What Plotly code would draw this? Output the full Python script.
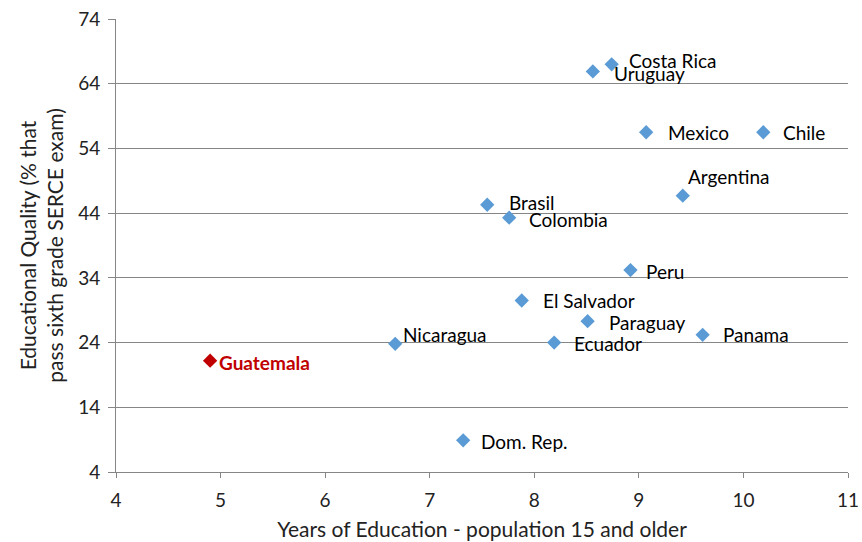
import plotly.graph_objects as go

countries = ["Costa Rica", "Uruguay", "Mexico", "Chile", "Argentina", "Brasil",
             "Colombia", "Peru", "El Salvador", "Paraguay", "Panama", "Ecuador",
             "Nicaragua", "Dom. Rep.", "Guatemala"]
years_edu = [8.74, 8.56, 9.07, 10.19, 9.42, 7.55, 7.76, 8.92, 7.88, 8.51, 9.61,
             8.19, 6.67, 7.32, 4.90]
quality = [67.0, 65.9, 56.5, 56.5, 46.7, 45.3, 43.3, 35.2, 30.5, 27.3, 25.2,
           24.0, 23.8, 8.9, 21.2]

y_ticks = [4, 14, 24, 34, 44, 54, 64, 74]
x_ticks = [4, 5, 6, 7, 8, 9, 10, 11]

# label offsets in pixels (right, up) from each marker
label_dx = [15, 19, 20, 18, 3, 20, 18, 14, 19, 19, 18, 18, 6, 16, 7]
label_dy = [4, -2, 0, 0, 19, 2, -2, -1, 0, -1, 0, -1, 9, -1, -2]

BLUE = "#5B9BD5"
RED = "#C00000"
FONT = "Lato, Carlito, Calibri, sans-serif"

highlight = "Guatemala"
colors = [RED if c == highlight else BLUE for c in countries]

fig = go.Figure()
fig.add_trace(go.Scatter(
    x=years_edu, y=quality, mode="markers",
    marker=dict(symbol="diamond", size=11, color=colors, line=dict(width=0)),
    hoverinfo="text", text=countries, showlegend=False,
))

for name, xv, yv, dx, dy in zip(countries, years_edu, quality, label_dx, label_dy):
    is_hl = name == highlight
    fig.add_annotation(
        x=xv, y=yv, text=f"<b>{name}</b>" if is_hl else name,
        showarrow=False, xanchor="left", yanchor="middle",
        xshift=dx, yshift=dy,
        font=dict(family=FONT, size=19, color=RED if is_hl else "#000000"),
    )

fig.update_layout(
    width=862, height=542,
    margin=dict(l=116, r=14, t=19, b=70),
    plot_bgcolor="white", paper_bgcolor="white",
    font=dict(family=FONT, size=19, color="#222222"),
    xaxis=dict(
        range=[4, 11], tickvals=x_ticks, showgrid=False, zeroline=False,
        showline=True, linecolor="#868686", linewidth=1,
        ticks="outside", ticklen=5, tickcolor="#868686",
        ticklabelstandoff=6, automargin=False,
        tickfont=dict(size=19, color="#222222"),
        title=dict(text="Years of Education - population 15 and older",
                   font=dict(size=21, color="#222222"), standoff=12),
    ),
    yaxis=dict(
        range=[4, 74], tickvals=y_ticks, showgrid=True, gridcolor="#868686",
        gridwidth=1, zeroline=False,
        showline=True, linecolor="#868686", linewidth=1,
        ticks="outside", ticklen=7, tickcolor="#868686",
        ticklabelstandoff=4, automargin=False,
        tickfont=dict(size=19, color="#222222"),
        title=dict(text="Educational Quality (% that<br>pass sixth grade SERCE exam)",
                   font=dict(size=21, color="#222222"), standoff=8),
    ),
)

fig.write_html("out.html")
